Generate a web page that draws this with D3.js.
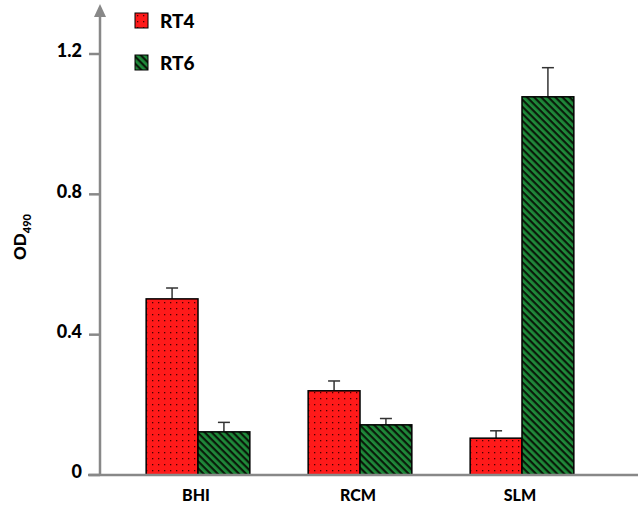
<!DOCTYPE html>
<html>
<head>
<meta charset="utf-8">
<script src="https://cdn.jsdelivr.net/npm/d3@7"></script>
<style>
  body { margin: 0; background: #fff; }
  text { font-family: Lato, "Liberation Sans", sans-serif; font-weight: 900; fill: #000; }
</style>
</head>
<body>
<div id="chart"></div>
<script>
var categories = ["BHI", "RCM", "SLM"];
var seriesNames = ["RT4", "RT6"];
var rt4 = [0.502, 0.240, 0.105];
var rt6 = [0.123, 0.143, 1.078];
var rt4Err = [0.031, 0.028, 0.021];
var rt6Err = [0.027, 0.018, 0.083];
var yTicks = [0, 0.4, 0.8, 1.2];

var width = 638, height = 508;
var svg = d3.select("#chart").append("svg")
  .attr("width", width).attr("height", height);

var defs = svg.append("defs");
// red with dark dots
var pDot = defs.append("pattern").attr("id", "dots")
  .attr("patternUnits", "userSpaceOnUse").attr("width", 6).attr("height", 6);
pDot.append("rect").attr("width", 6).attr("height", 6).attr("fill", "#ff1a1a");
pDot.append("rect").attr("x", 2).attr("y", 2).attr("width", 1.3).attr("height", 1.3).attr("fill", "#4a0000");
// green with black diagonal stripes
var pStr = defs.append("pattern").attr("id", "stripes")
  .attr("patternUnits", "userSpaceOnUse").attr("width", 5).attr("height", 5)
  .attr("patternTransform", "rotate(45)");
pStr.append("rect").attr("width", 5).attr("height", 5).attr("fill", "#1f8a3a");
pStr.append("rect").attr("x", 0).attr("y", 0).attr("width", 5).attr("height", 2.2).attr("fill", "#0a1a0a");

var y = d3.scaleLinear().domain([0, 1.2]).range([475, 54]);
var x0 = d3.scaleBand().domain(categories).range([117, 603]).paddingInner(0.36).paddingOuter(0.18);
var x1 = d3.scaleBand().domain(seriesNames).range([0, x0.bandwidth()]);

var rows = categories.map(function(c, i) {
  return [
    { cat: c, s: "RT4", v: rt4[i], e: rt4Err[i], fill: "url(#dots)" },
    { cat: c, s: "RT6", v: rt6[i], e: rt6Err[i], fill: "url(#stripes)" }
  ];
});
var flat = [].concat.apply([], rows);

// error bars
var eb = svg.append("g").selectAll("g").data(flat).enter().append("g");
eb.append("line")
  .attr("x1", function(d) { return x0(d.cat) + x1(d.s) + x1.bandwidth() / 2; })
  .attr("x2", function(d) { return x0(d.cat) + x1(d.s) + x1.bandwidth() / 2; })
  .attr("y1", function(d) { return y(d.v); })
  .attr("y2", function(d) { return y(d.v + d.e); })
  .attr("stroke", "#333").attr("stroke-width", 1.5);
eb.append("line")
  .attr("x1", function(d) { return x0(d.cat) + x1(d.s) + x1.bandwidth() / 2 - 6; })
  .attr("x2", function(d) { return x0(d.cat) + x1(d.s) + x1.bandwidth() / 2 + 6; })
  .attr("y1", function(d) { return y(d.v + d.e); })
  .attr("y2", function(d) { return y(d.v + d.e); })
  .attr("stroke", "#333").attr("stroke-width", 1.5);

// bars
svg.append("g").selectAll("rect").data(flat).enter().append("rect")
  .attr("x", function(d) { return x0(d.cat) + x1(d.s); })
  .attr("y", function(d) { return y(d.v); })
  .attr("width", x1.bandwidth())
  .attr("height", function(d) { return y(0) - y(d.v); })
  .attr("fill", function(d) { return d.fill; })
  .attr("stroke", "#000").attr("stroke-width", 1.5);

// axes
var axisCol = "#888";
svg.append("line").attr("x1", 88).attr("x2", 638).attr("y1", y(0)).attr("y2", y(0))
  .attr("stroke", axisCol).attr("stroke-width", 2.5);
svg.append("line").attr("x1", 100).attr("x2", 100).attr("y1", y(0)).attr("y2", 14)
  .attr("stroke", axisCol).attr("stroke-width", 2.5);
svg.append("path").attr("d", "M100,4 L94,17 L106,17 Z").attr("fill", axisCol);

var yt = svg.append("g").selectAll("g").data(yTicks).enter().append("g");
yt.append("line").attr("x1", 89).attr("x2", 100)
  .attr("y1", function(d) { return y(d); }).attr("y2", function(d) { return y(d); })
  .attr("stroke", axisCol).attr("stroke-width", 2.5);
yt.append("text").attr("x", 82).attr("y", function(d) { return y(d) - 3; })
  .attr("dy", "0.36em").attr("text-anchor", "end").attr("font-size", 18)
  .text(function(d) { return d === 0 ? "0" : d3.format(".1f")(d); });

svg.append("g").selectAll("text").data(categories).enter().append("text")
  .attr("x", function(d) { return x0(d) + x0.bandwidth() / 2 - 2; })
  .attr("y", 501).attr("text-anchor", "middle").attr("font-size", 16)
  .text(function(d) { return d; });

// y label
var yl = svg.append("text").attr("transform", "translate(26,237) rotate(-90)")
  .attr("text-anchor", "middle").attr("font-size", 17);
yl.append("tspan").text("OD");
yl.append("tspan").attr("font-size", 11).attr("dy", 5).text("490");

// legend
var leg = svg.append("g").selectAll("g").data(seriesNames).enter().append("g")
  .attr("transform", function(d, i) { return "translate(135," + (13 + i * 42) + ")"; });
leg.append("rect").attr("width", 13).attr("height", 15)
  .attr("fill", function(d, i) { return i === 0 ? "url(#dots)" : "url(#stripes)"; })
  .attr("stroke", "#000").attr("stroke-width", 1);
leg.append("text").attr("x", 25).attr("y", 8).attr("dy", "0.36em").attr("font-size", 19)
  .text(function(d) { return d; });
</script>
</body>
</html>
